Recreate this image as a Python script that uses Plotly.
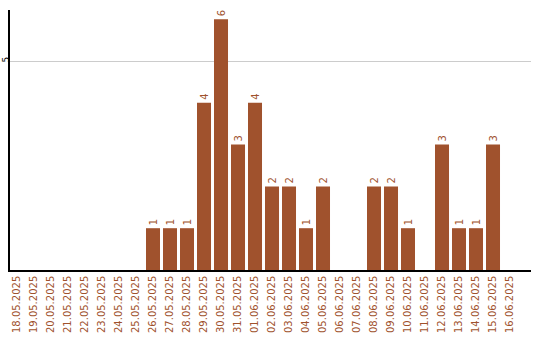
import plotly.graph_objects as go

dates = ["18.05.2025", "19.05.2025", "20.05.2025", "21.05.2025", "22.05.2025",
         "23.05.2025", "24.05.2025", "25.05.2025", "26.05.2025", "27.05.2025",
         "28.05.2025", "29.05.2025", "30.05.2025", "31.05.2025", "01.06.2025",
         "02.06.2025", "03.06.2025", "04.06.2025", "05.06.2025", "06.06.2025",
         "07.06.2025", "08.06.2025", "09.06.2025", "10.06.2025", "11.06.2025",
         "12.06.2025", "13.06.2025", "14.06.2025", "15.06.2025", "16.06.2025"]
counts = [0, 0, 0, 0, 0, 0, 0, 0, 1, 1,
          1, 4, 6, 3, 4, 2, 2, 1, 2, 0,
          0, 2, 2, 1, 0, 3, 1, 1, 3, 0]

color = "#A0522D"
labels = [str(v) if v > 0 else "" for v in counts]

fig = go.Figure(go.Bar(
    x=dates, y=counts, marker_color=color, marker_line_width=0,
    text=labels, textposition="outside", textangle=-90,
    textfont=dict(color=color, size=10, family="DejaVu Sans"),
    cliponaxis=False, hoverinfo="skip",
))

fig.update_layout(
    width=540, height=340,
    margin=dict(l=10, r=9, t=10, b=70),
    paper_bgcolor="white", plot_bgcolor="white",
    bargap=0.176, showlegend=False,
    font=dict(family="DejaVu Sans", size=10),
)
fig.update_xaxes(
    type="category", range=[-0.412, 30.235], automargin=False,
    tickangle=-90, tickfont=dict(color=color, size=10, family="DejaVu Sans"),
    showline=True, linecolor="black", linewidth=1.5,
    showgrid=False, ticks="", ticklen=0,
)
fig.update_yaxes(
    range=[0, 6.22], tickvals=[5], ticktext=["5"], automargin=False,
    tickangle=-90, tickfont=dict(color="black", size=9, family="DejaVu Sans"),
    ticklabelstandoff=-4,
    showline=True, linecolor="black", linewidth=1.5,
    showgrid=True, gridcolor="#cccccc", gridwidth=1,
    zeroline=False, ticks="", ticklen=0,
)

fig.write_html("out.html")
